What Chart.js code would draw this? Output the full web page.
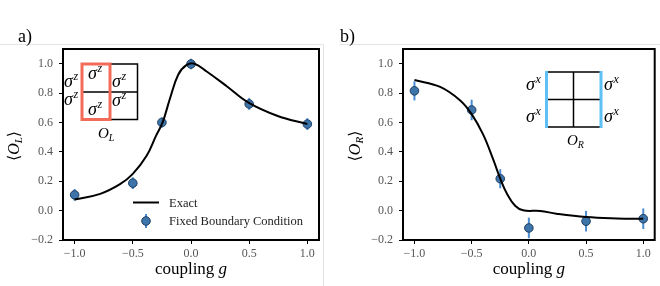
<!DOCTYPE html>
<html>
<head>
<meta charset="utf-8">
<script src="https://cdn.jsdelivr.net/npm/chart.js@4.4.1/dist/chart.umd.min.js"></script>
<style>
  body { margin: 0; background: #fff; }
  #wrap { position: relative; width: 660px; height: 286px; }
  .pane { position: absolute; top: 0; width: 330px; height: 286px; }
</style>
</head>
<body>
<div id="wrap">
  <div class="pane" style="left:0"><canvas id="chartL" width="330" height="286"></canvas></div>
  <div class="pane" style="left:330px"><canvas id="chartR" width="330" height="286"></canvas></div>
</div>
<script>
// ---------------- Data ----------------
const gFixed = [-1.0, -0.5, -0.25, 0.0, 0.5, 1.0];
const fixedL = [0.107, 0.187, 0.60, 0.998, 0.726, 0.589];
const errL = [0.04, 0.04, 0.035, 0.035, 0.04, 0.04];
const fixedR = [0.815, 0.685, 0.217, -0.118, -0.072, -0.055];
const errR = [0.065, 0.07, 0.065, 0.07, 0.07, 0.07];

const gExactL = [-1.0, -0.78, -0.61, -0.5, -0.38, -0.30, -0.244, -0.18, -0.11, -0.04, 0.03, 0.135, 0.31, 0.49, 0.74, 1.0];
const exactL = [0.075, 0.114, 0.18, 0.25, 0.375, 0.51, 0.60, 0.765, 0.925, 0.99, 1.0, 0.947, 0.845, 0.737, 0.646, 0.589];
const gExactR = [-1.0, -0.775, -0.6, -0.5, -0.4, -0.31, -0.25, -0.19, -0.12, -0.05, 0.1, 0.24, 0.5, 0.77, 1.0];
const exactR = [0.889, 0.842, 0.75, 0.657, 0.519, 0.345, 0.217, 0.113, 0.033, 0.002, -0.002, -0.021, -0.044, -0.053, -0.055];

const xTicks = [-1.0, -0.5, 0.0, 0.5, 1.0];
const yTicks = [-0.2, 0.0, 0.2, 0.4, 0.6, 0.8, 1.0];

const SERIF = '"Liberation Serif", "DejaVu Serif", serif';
const PT_FILL = '#3d74aa';
const PT_EDGE = '#1d3d62';
const ERR_COL = '#4a8ccf';

function fmt(v) {
    return v.toFixed(1).replace('-', '\u2212');
}

// draws base + superscript (italic)
function sym(ctx, base, sup, x, y, size) {
    ctx.font = 'italic ' + size + 'px ' + SERIF;
    ctx.fillText(base, x, y);
    let w = ctx.measureText(base).width;
    ctx.font = 'italic ' + Math.round(size * 0.68) + 'px ' + SERIF;
    ctx.fillText(sup, x + w + 0.5, y - size * 0.4);
}

function sub(ctx, base, s, x, y, size) {
    ctx.font = 'italic ' + size + 'px ' + SERIF;
    ctx.fillText(base, x, y);
    let w = ctx.measureText(base).width;
    ctx.font = 'italic ' + Math.round(size * 0.68) + 'px ' + SERIF;
    ctx.fillText(s, x + w, y + size * 0.18);
}

function marker(ctx, x, y) {
    ctx.beginPath();
    ctx.arc(x, y, 4.3, 0, Math.PI * 2);
    ctx.fillStyle = PT_FILL;
    ctx.fill();
    ctx.lineWidth = 1;
    ctx.strokeStyle = PT_EDGE;
    ctx.stroke();
}

function insetL(ctx) {
    ctx.save();
    ctx.fillStyle = '#000';
    ctx.strokeStyle = '#000';
    ctx.lineWidth = 1.5;
    ctx.beginPath();
    ctx.moveTo(110, 64); ctx.lineTo(137.5, 64); ctx.lineTo(137.5, 119.5); ctx.lineTo(110, 119.5);
    ctx.moveTo(82, 92); ctx.lineTo(137.5, 92);
    ctx.stroke();
    ctx.strokeStyle = '#f36c5a';
    ctx.lineWidth = 3;
    ctx.strokeRect(82, 64, 28, 55.5);
    sym(ctx, '\u03c3', 'z', 64, 87, 18);
    sym(ctx, '\u03c3', 'z', 64, 105, 18);
    sym(ctx, '\u03c3', 'z', 88, 79, 18);
    sym(ctx, '\u03c3', 'z', 88, 115, 18);
    sym(ctx, '\u03c3', 'z', 112, 87, 18);
    sym(ctx, '\u03c3', 'z', 112, 106, 18);
    sub(ctx, 'O', 'L', 98, 138, 15);
    ctx.restore();
}

function insetR(ctx) {
    const ox = -330;
    ctx.save();
    ctx.fillStyle = '#000';
    ctx.strokeStyle = '#000';
    ctx.lineWidth = 1.5;
    ctx.beginPath();
    ctx.moveTo(546.5 + ox, 72); ctx.lineTo(601 + ox, 72);
    ctx.moveTo(546.5 + ox, 127); ctx.lineTo(601 + ox, 127);
    ctx.moveTo(546.5 + ox, 99.5); ctx.lineTo(601 + ox, 99.5);
    ctx.moveTo(573.5 + ox, 72); ctx.lineTo(573.5 + ox, 127);
    ctx.stroke();
    ctx.strokeStyle = '#5ec0f5';
    ctx.lineWidth = 3;
    ctx.beginPath();
    ctx.moveTo(546.5 + ox, 71); ctx.lineTo(546.5 + ox, 128);
    ctx.moveTo(601 + ox, 71); ctx.lineTo(601 + ox, 128);
    ctx.stroke();
    sym(ctx, '\u03c3', 'x', 526 + ox, 90, 18);
    sym(ctx, '\u03c3', 'x', 526 + ox, 122, 18);
    sym(ctx, '\u03c3', 'x', 604 + ox, 90, 18);
    sym(ctx, '\u03c3', 'x', 604 + ox, 122, 18);
    sub(ctx, 'O', 'R', 567 + ox, 145, 15);
    ctx.restore();
}

function legendL(ctx) {
    ctx.save();
    ctx.strokeStyle = '#000';
    ctx.lineWidth = 2;
    ctx.beginPath();
    ctx.moveTo(133, 202.5); ctx.lineTo(159, 202.5);
    ctx.stroke();
    ctx.strokeStyle = ERR_COL;
    ctx.beginPath();
    ctx.moveTo(146, 214); ctx.lineTo(146, 228);
    ctx.stroke();
    marker(ctx, 146, 221);
    ctx.fillStyle = '#222';
    ctx.font = '12.5px ' + SERIF;
    ctx.fillText('Exact', 169, 207);
    ctx.fillText('Fixed Boundary Condition', 169, 225);
    ctx.restore();
}

// per-panel settings (kept outside chart options so functions are not resolved as scriptables)
const panels = {
    chartL: {
        vals: fixedL, errs: errL, letter: 'a)', letterX: 18, sepX0: 0, sepX1: 323, vsep: 323,
        ylabX: 14, subL: 'L', inset: insetL, legend: legendL
    },
    chartR: {
        vals: fixedR, errs: errR, letter: 'b)', letterX: 10, sepX0: 10, sepX1: 330, vsep: 0,
        ylabX: 25, subL: 'R', inset: insetR, legend: null
    }
};

// ---------------- Plugin ----------------
const framePlugin = {
    id: 'frame',
    beforeDatasetsDraw(chart) {
        const ctx = chart.ctx, o = panels[chart.canvas.id];
        const xs = chart.scales.x, ys = chart.scales.y;
        ctx.save();
        ctx.strokeStyle = ERR_COL;
        ctx.lineWidth = 2;
        gFixed.forEach(function(g, i) {
            const px = xs.getPixelForValue(g);
            ctx.beginPath();
            ctx.moveTo(px, ys.getPixelForValue(o.vals[i] - o.errs[i]));
            ctx.lineTo(px, ys.getPixelForValue(o.vals[i] + o.errs[i]));
            ctx.stroke();
        });
        ctx.restore();
    },
    afterDraw(chart) {
        const ctx = chart.ctx, a = chart.chartArea, o = panels[chart.canvas.id];
        ctx.save();
        // subfigure separators
        ctx.strokeStyle = '#e4e4e4';
        ctx.lineWidth = 1;
        ctx.beginPath();
        ctx.moveTo(o.sepX0, 44.5);
        ctx.lineTo(o.sepX1, 44.5);
        if (o.vsep) {
            ctx.moveTo(o.vsep + 0.5, 44.5);
            ctx.lineTo(o.vsep + 0.5, 286);
        }
        ctx.stroke();
        // frame
        ctx.strokeStyle = '#000';
        ctx.lineWidth = 2;
        ctx.strokeRect(a.left, a.top, a.right - a.left, a.bottom - a.top);
        // panel letter
        ctx.fillStyle = '#000';
        ctx.font = '18px ' + SERIF;
        ctx.textBaseline = 'alphabetic';
        ctx.fillText(o.letter, o.letterX, 42);
        // x title
        const t1 = 'coupling ';
        ctx.font = 'italic 17px ' + SERIF;
        const wg = ctx.measureText('g').width;
        ctx.font = '17px ' + SERIF;
        const w1 = ctx.measureText(t1).width;
        const cx = (a.left + a.right) / 2;
        const sx = cx - (w1 + wg) / 2;
        ctx.fillText(t1, sx, 274);
        ctx.font = 'italic 17px ' + SERIF;
        ctx.fillText('g', sx + w1, 274);
        // y title
        ctx.translate(o.ylabX, 146);
        ctx.rotate(-Math.PI / 2);
        ctx.font = '16px ' + SERIF;
        const wl = ctx.measureText('\u27e8').width;
        ctx.font = 'italic 16px ' + SERIF;
        const wo = ctx.measureText('O').width;
        ctx.font = 'italic 11px ' + SERIF;
        const ws = ctx.measureText(o.subL).width;
        let x = -(wl * 2 + wo + ws) / 2;
        ctx.font = '16px ' + SERIF;
        ctx.fillText('\u27e8', x, 5);
        x += wl;
        sub(ctx, 'O', o.subL, x, 5, 16);
        x += wo + ws;
        ctx.font = '16px ' + SERIF;
        ctx.fillText('\u27e9', x, 5);
        ctx.restore();
        o.inset(ctx);
        if (o.legend) o.legend(ctx);
    }
};

// ---------------- Charts ----------------
function makeChart(id, gEx, ex, vals, padRight, yWidth) {
    const tickFont = { family: SERIF, size: 12 };
    return new Chart(document.getElementById(id), {
        type: 'scatter',
        data: {
            datasets: [{
                label: 'Exact',
                data: gEx.map(function(g, i) { return { x: g, y: ex[i] }; }),
                showLine: true,
                borderColor: '#000',
                borderWidth: 2,
                pointRadius: 0,
                tension: 0.4
            }, {
                label: 'Fixed Boundary Condition',
                data: gFixed.map(function(g, i) { return { x: g, y: vals[i] }; }),
                pointRadius: 4.3,
                pointBackgroundColor: PT_FILL,
                pointBorderColor: PT_EDGE,
                pointBorderWidth: 1
            }]
        },
        options: {
            responsive: false,
            animation: false,
            devicePixelRatio: 1,
            layout: { padding: { top: 49, right: padRight, left: 0, bottom: 0 } },
            plugins: {
                legend: { display: false },
                tooltip: { enabled: false }
            },
            scales: {
                x: {
                    type: 'linear', min: -1.1, max: 1.1,
                    afterBuildTicks: function(s) { s.ticks = xTicks.map(function(v) { return { value: v }; }); },
                    afterFit: function(s) { s.height = 46; },
                    ticks: { callback: fmt, font: tickFont, color: '#555', padding: 3, maxRotation: 0 },
                    grid: { drawOnChartArea: false, tickLength: 4, color: '#000', tickWidth: 1 },
                    border: { display: false }
                },
                y: {
                    type: 'linear', min: -0.2, max: 1.1,
                    afterBuildTicks: function(s) { s.ticks = yTicks.map(function(v) { return { value: v }; }); },
                    afterFit: function(s) { s.width = yWidth; },
                    ticks: { callback: fmt, font: tickFont, color: '#555', padding: 6 },
                    grid: { drawOnChartArea: false, tickLength: 4, color: '#000', tickWidth: 1 },
                    border: { display: false }
                }
            }
        },
        plugins: [framePlugin]
    });
}

makeChart('chartL', gExactL, exactL, fixedL, 11, 63);
makeChart('chartR', gExactR, exactR, fixedR, 5, 73);
</script>
</body>
</html>
